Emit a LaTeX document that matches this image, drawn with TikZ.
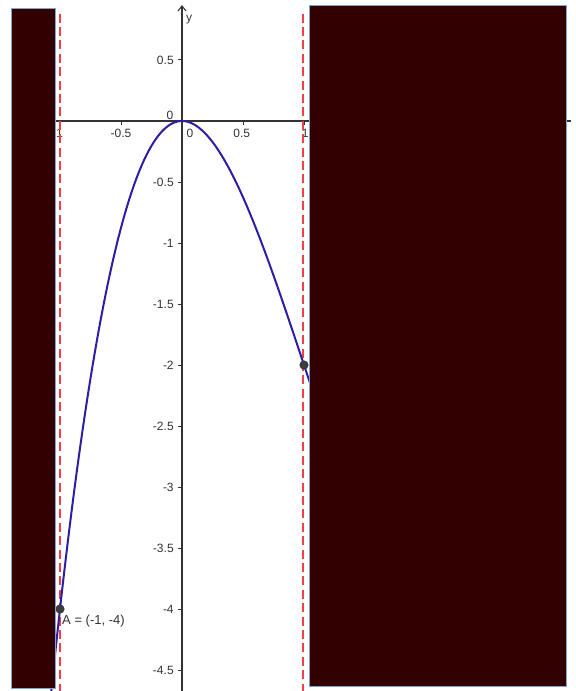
\documentclass[tikz,border=0pt]{standalone}
\usepackage{fontspec}
\setmainfont{Liberation Sans}
\usetikzlibrary{arrows.meta}
\definecolor{maskred}{HTML}{330000}
\definecolor{maskedge}{HTML}{7FA6D6}
\definecolor{axisink}{HTML}{333333}
\definecolor{curveblue}{HTML}{2B1FA3}
\definecolor{asymred}{HTML}{F0404A}
\definecolor{ptgray}{HTML}{3C3C3C}

\begin{document}
\begin{tikzpicture}[
    x=61pt, y=61pt,
    axis/.style={line width=0.55pt, axisink},
    tick/.style={line width=0.5pt, axisink},
    ticklbl/.style={font=\fontsize{6}{7}\selectfont, text=axisink, inner sep=0pt},
    % dashed vertical boundary
    bound/.style={draw=asymred, line width=0.85pt, dash pattern=on 4.5pt off 2.2pt},
    curve/.style={curveblue, line width=1pt},
    % covering block
    mask/.style={fill=maskred, draw=maskedge, line width=0.5pt},
    pt/.style={circle, fill=ptgray, draw=black!80, line width=0.3pt, minimum size=4.2pt, inner sep=0pt},
    ptlbl/.style={font=\fontsize{6.5}{8}\selectfont, text=axisink, inner sep=0pt}
]
\useasboundingbox[fill=white] (-1.4918,0.9918) rectangle (3.2213,-4.672);
\clip (-1.4918,0.9918) rectangle (3.2213,-4.672);

% ---------- Axes ----------
\coordinate (xl) at (-1.06,0);
\coordinate (xr) at (3.19,0);
\coordinate (yb) at (0,-4.68);
\coordinate (yt) at (0,0.95);
\draw[axis] (xl) -- (xr);
\draw[axis, -{Straight Barb[length=2.5pt,width=4pt]}] (yb) -- (yt);
\node[ticklbl, anchor=west] (ylbl) at (0.03,0.828) {y};

% x ticks
\foreach \t in {-1,-0.5,0.5,1}
  \draw[tick] (\t,0) -- (\t,-0.03);
\node[ticklbl] (xm1) at (-1.02,-0.098) {-1};
\node[ticklbl] (xm05) at (-0.5,-0.098) {-0.5};
\node[ticklbl] (x0) at (0.066,-0.098) {0};
\node[ticklbl] (x05) at (0.49,-0.098) {0.5};
\node[ticklbl] (x1) at (1.01,-0.098) {1};
\node[ticklbl] (y0) at (-0.098,0.05) {0};

% y ticks
\draw[tick] (-0.03,0.5) -- (0,0.5);
\node[ticklbl, anchor=east] (y05) at (-0.065,0.5) {0.5};
\foreach \t/\l in {-0.5/-0.5,-1/-1,-1.5/-1.5,-2/-2,-2.5/-2.5,-3/-3,-3.5/-3.5,-4/-4,-4.5/-4.5}{
  \draw[tick] (-0.03,\t) -- (0,\t);
  \node[ticklbl, anchor=east] at (-0.065,\t) {\l};
}

% ---------- Boundaries ----------
\coordinate (lt) at (-1,0.88);
\coordinate (lb) at (-1,-4.68);
\coordinate (rt) at (0.99,0.88);
\coordinate (rb) at (0.99,-4.68);
\draw[bound] (lt) -- (lb) (rt) -- (rb);

% ---------- Curve ----------
\draw[curve, domain=-1.12:1.1, samples=120, smooth] plot (\x,{\x*\x*\x-3*\x*\x});

% ---------- Points ----------
\node[pt] (A) at (-1,-4) {};
\node[pt] (B) at (1,-2) {};
\node[ptlbl, anchor=north west] (Albl) at (-0.985,-4.045) {A = (-1, -4)};

% ---------- Covering blocks ----------
\filldraw[mask] (-1.396,0.924) rectangle (-1.039,-4.650);
\filldraw[mask] (1.041,0.943) rectangle (3.148,-4.631);

\end{tikzpicture}
\end{document}
